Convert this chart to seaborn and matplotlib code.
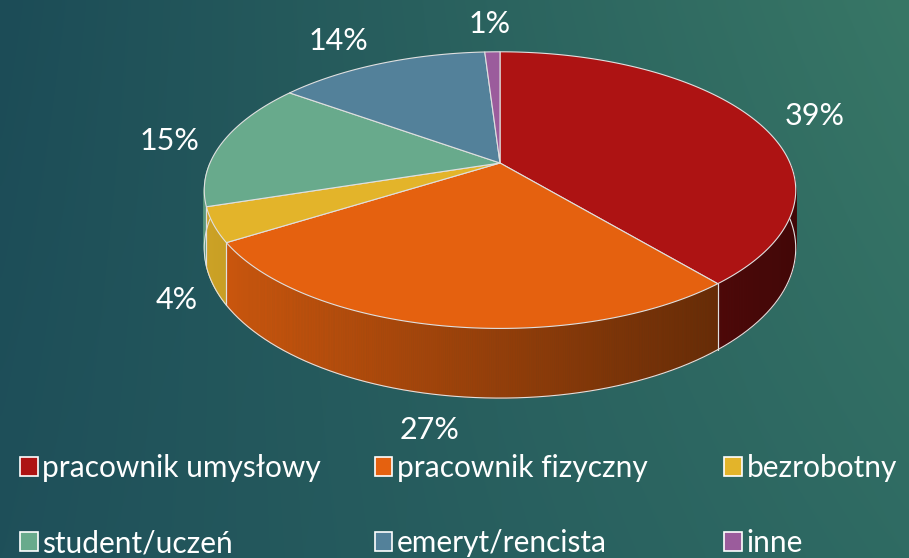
import numpy as np
import matplotlib
matplotlib.use("Agg")
import matplotlib.pyplot as plt
from matplotlib.patches import Polygon, Rectangle
from matplotlib.collections import PolyCollection
from matplotlib.colors import to_rgb
import seaborn as sns

# ---- data ----
categories = ["pracownik umysłowy", "pracownik fizyczny", "bezrobotny",
              "student/uczeń", "emeryt/rencista", "inne"]
shares = [39, 27, 4, 15, 14, 1]
labels = ["39%", "27%", "4%", "15%", "14%", "1%"]
colors = ["#ad1313", "#e5610f", "#e3b42a", "#68aa8c", "#53819a", "#9b5c9c"]

sns.set_theme(style="white")
plt.rcParams['font.family'] = ['Lato', 'DejaVu Sans']
palette = sns.color_palette(colors)

W, H = 909, 558
fig = plt.figure(figsize=(W / 100, H / 100), dpi=100)
ax = fig.add_axes([0, 0, 1, 1])
ax.set_xlim(0, W)
ax.set_ylim(H, 0)
ax.axis("off")

# background gradient
gx = np.linspace(0, 1, 200)[None, :]
gy = np.linspace(0, 1, 120)[:, None]
c_tl = np.array(to_rgb("#1c4c57"))
c_tr = np.array(to_rgb("#387766"))
c_bl = np.array(to_rgb("#1f505a"))
c_br = np.array(to_rgb("#2f6b63"))
top = c_tl[None, None, :] * (1 - gx[..., None]) + c_tr[None, None, :] * gx[..., None]
bot = c_bl[None, None, :] * (1 - gx[..., None]) + c_br[None, None, :] * gx[..., None]
bg = top * (1 - gy[..., None]) + bot * gy[..., None]
ax.imshow(bg, extent=[0, W, H, 0], aspect="auto", zorder=0, interpolation="bicubic")

# pie geometry (layout) with simple perspective
cx, cy = 500, 163
a, b = 290, 133
persp = 0.196
depth = 56
edge = "#e0e0e0"

vals = np.array(shares, dtype=float)
fracs = vals / vals.sum()
ends = 90 - 360 * np.cumsum(fracs)
starts = np.concatenate([[90], ends[:-1]])


def proj(t_deg, down=0.0):
    t = np.radians(t_deg)
    X, Z = np.cos(t), np.sin(t)
    s = 1.0 / (1.0 + persp * Z)
    return cx + a * X * s, cy - b * Z * s + down * s


def shade(x):
    return 0.9 - 0.52 * (x - 205) / 592


# side walls (front half), painter's order: back first
quads = []
for s, e, col in zip(starts, ends, palette):
    lo, hi = e, s
    base = np.array(col)
    for off in (0, -360, 360):
        l2, h2 = max(lo + off, -180), min(hi + off, 0)
        if h2 <= l2:
            continue
        ts = np.linspace(h2, l2, max(int((h2 - l2) * 3), 2))
        for t1, t2 in zip(ts[:-1], ts[1:]):
            x1, y1 = proj(t1)
            x2, y2 = proj(t2)
            x3, y3 = proj(t2, depth)
            x4, y4 = proj(t1, depth)
            f = shade((x1 + x2) / 2)
            key = np.sin(np.radians((t1 + t2) / 2))
            quads.append((-key, [(x1, y1), (x2, y2), (x3, y3), (x4, y4)],
                          np.clip(base * f, 0, 1)))
        xs, ys = proj(ts, depth)
        ax.plot(xs, ys, color=edge, lw=0.8, zorder=3)
        for tt in (h2, l2):
            if tt in (-180, 0):
                continue
            xa, ya = proj(tt)
            xb, yb = proj(tt, depth)
            ax.plot([xa, xb], [ya, yb], color=edge, lw=0.8, zorder=3)

quads.sort(key=lambda q: q[0])
ax.add_collection(PolyCollection([q[1] for q in quads],
                                 facecolors=[q[2] for q in quads],
                                 edgecolors=[q[2] for q in quads],
                                 linewidths=0.6, zorder=2))

# top faces
for s, e, col in zip(starts, ends, palette):
    ts = np.linspace(s, e, max(int((s - e) * 3), 3))
    xs, ys = proj(ts)
    pts = [(cx, cy)] + list(zip(xs, ys))
    ax.add_patch(Polygon(pts, closed=True, facecolor=col, edgecolor=edge,
                         lw=0.8, zorder=4, joinstyle="round"))

# labels
for s, e, lab in zip(starts, ends, labels):
    m = np.radians((s + e) / 2)
    sn, cs = np.sin(m), np.cos(m)
    if sn >= 0:
        x = 500 + 1.13 * 296 * cs
        y = 190 - 139 * sn - 27
    else:
        sc = 1.0 / (1.0 + persp * sn)
        x = 500 + 1.08 * 296 * cs * sc - 8
        y = 190 + (-sn) * (138 + 70 + 23) + 12
    ax.text(x, y, lab, color="white", fontsize=22, ha="center", va="center",
            zorder=6)

# legend: three columns of two entries
cols_x = [0.022, 0.412, 0.797]
order = [(0, 3), (1, 4), (2, 5)]
for xpos, (i, j) in zip(cols_x, order):
    handles = [Rectangle((0, 0), 1, 1, facecolor=palette[k], edgecolor="white", lw=1.2)
               for k in (i, j)]
    fig.legend(handles, [categories[i], categories[j]], loc="upper left",
               bbox_to_anchor=(xpos, 0.187), frameon=False,
               fontsize=21.5, labelcolor="white", handlelength=0.6,
               handleheight=0.6, handletextpad=0.15, labelspacing=1.6,
               borderaxespad=0, borderpad=0)

fig.savefig("out.png", dpi=100)
